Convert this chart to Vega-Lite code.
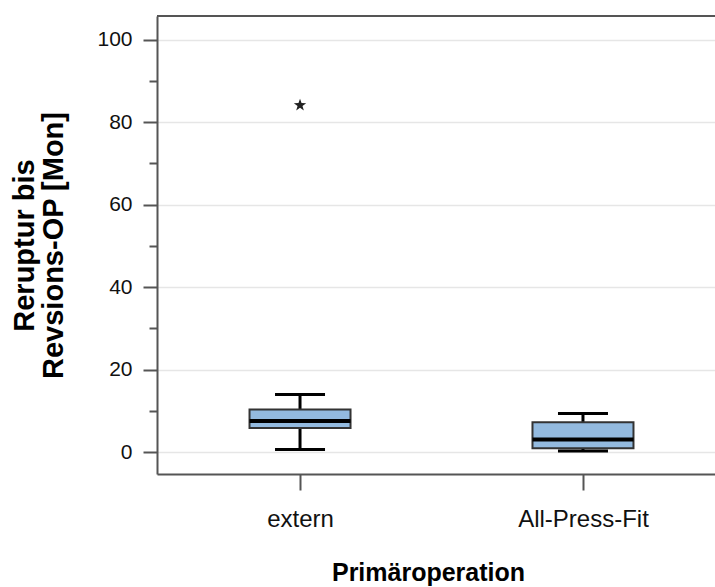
{
  "$schema": "https://vega.github.io/schema/vega-lite/v6.json",
  "autosize": {"type": "none"},
  "padding": {"left": 157, "top": 16, "right": 0, "bottom": 113},
  "width": 558,
  "height": 458,
  "background": "white",
  "datasets": {
    "stats": [
      {"grp": "extern", "lower": 0.7, "q1": 5.9, "median": 7.6, "q3": 10.4, "upper": 14.0},
      {"grp": "All-Press-Fit", "lower": 0.3, "q1": 1.0, "median": 3.1, "q3": 7.3, "upper": 9.4}
    ],
    "outliers": [
      {"grp": "extern", "value": 84.1}
    ],
    "frame": [
      {"top": 105.7}
    ]
  },
  "config": {
    "view": {"stroke": null},
    "axis": {
      "domainColor": "#555555",
      "domainWidth": 2,
      "tickColor": "#555555",
      "tickWidth": 2,
      "labelColor": "#111111",
      "titleColor": "#000000",
      "labelFont": "Liberation Sans",
      "titleFont": "Liberation Sans",
      "titleFontWeight": "bold"
    }
  },
  "layer": [
    {
      "data": {"name": "stats"},
      "mark": {"type": "rule", "color": "#000000", "strokeWidth": 3},
      "encoding": {
        "x": {
          "field": "grp", "type": "nominal", "sort": ["extern", "All-Press-Fit"],
          "scale": {"type": "point", "padding": 0.486, "align": 0.52},
          "title": "Primäroperation",
          "axis": {
            "labelAngle": 0, "labelFontSize": 24, "labelPadding": 17, "tickSize": 16,
            "titleFontSize": 25, "titleX": 271, "titleY": 106, "titleBaseline": "alphabetic", "titleAlign": "center",
            "grid": false
          }
        },
        "y": {
          "field": "lower", "type": "quantitative",
          "scale": {"domain": [-5.25, 105.7], "nice": false, "zero": false},
          "title": ["Reruptur bis", "Revsions-OP [Mon]"],
          "axis": {
            "values": [0, 10, 20, 30, 40, 50, 60, 70, 80, 90, 100],
            "labelExpr": "datum.value % 20 === 0 ? datum.label : ''",
            "tickSize": {"condition": {"test": "datum.value % 20 === 0", "value": 14}, "value": 8},
            "grid": true,
            "gridColor": "#e6e6e6",
            "gridWidth": 1.5,
            "gridOpacity": {"condition": {"test": "datum.value % 20 === 0", "value": 1}, "value": 0},
            "labelFontSize": 21,
            "labelPadding": 11,
            "titleFontSize": 29,
            "titleLineHeight": 29,
            "titleX": -124,
            "titleY": 229,
            "titleAlign": "center",
            "titleBaseline": "alphabetic"
          }
        },
        "y2": {"field": "upper"}
      }
    },
    {
      "data": {"name": "stats"},
      "mark": {"type": "bar", "size": 101, "fill": "#93badf", "stroke": "#333333", "strokeWidth": 2, "orient": "vertical"},
      "encoding": {
        "x": {"field": "grp", "type": "nominal", "sort": ["extern", "All-Press-Fit"], "title": "Primäroperation"},
        "y": {"field": "q1", "type": "quantitative", "title": ["Reruptur bis", "Revsions-OP [Mon]"]},
        "y2": {"field": "q3"}
      }
    },
    {
      "data": {"name": "stats"},
      "mark": {"type": "tick", "size": 101, "thickness": 4, "color": "#000000", "opacity": 1},
      "encoding": {
        "x": {"field": "grp", "type": "nominal", "sort": ["extern", "All-Press-Fit"], "title": "Primäroperation"},
        "y": {"field": "median", "type": "quantitative", "title": ["Reruptur bis", "Revsions-OP [Mon]"]}
      }
    },
    {
      "data": {"name": "stats"},
      "mark": {"type": "tick", "size": 50, "thickness": 3, "color": "#000000", "opacity": 1},
      "encoding": {
        "x": {"field": "grp", "type": "nominal", "sort": ["extern", "All-Press-Fit"], "title": "Primäroperation"},
        "y": {"field": "lower", "type": "quantitative", "title": ["Reruptur bis", "Revsions-OP [Mon]"]}
      }
    },
    {
      "data": {"name": "stats"},
      "mark": {"type": "tick", "size": 50, "thickness": 3, "color": "#000000", "opacity": 1},
      "encoding": {
        "x": {"field": "grp", "type": "nominal", "sort": ["extern", "All-Press-Fit"], "title": "Primäroperation"},
        "y": {"field": "upper", "type": "quantitative", "title": ["Reruptur bis", "Revsions-OP [Mon]"]}
      }
    },
    {
      "data": {"name": "outliers"},
      "mark": {
        "type": "point", "filled": true, "color": "#222222", "opacity": 1, "size": 169,
        "shape": "M0,-1L0.235,-0.324L0.951,-0.309L0.380,0.124L0.588,0.809L0,0.4L-0.588,0.809L-0.380,0.124L-0.951,-0.309L-0.235,-0.324Z"
      },
      "encoding": {
        "x": {"field": "grp", "type": "nominal", "sort": ["extern", "All-Press-Fit"], "title": "Primäroperation"},
        "y": {"field": "value", "type": "quantitative", "title": ["Reruptur bis", "Revsions-OP [Mon]"]}
      }
    },
    {
      "data": {"name": "frame"},
      "mark": {"type": "rule", "color": "#555555", "strokeWidth": 2},
      "encoding": {
        "y": {"field": "top", "type": "quantitative", "title": ["Reruptur bis", "Revsions-OP [Mon]"]}
      }
    }
  ]
}
